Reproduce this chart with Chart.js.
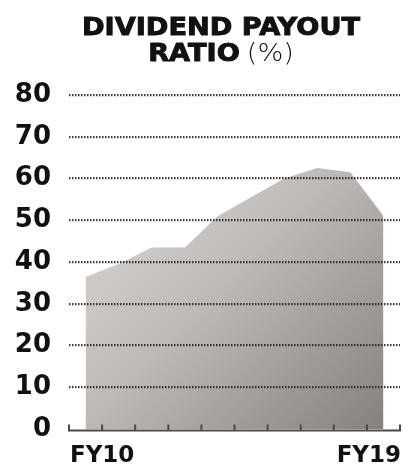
<!DOCTYPE html>
<html>
<head>
<meta charset="utf-8">
<title>Dividend payout ratio</title>
<script src="https://cdn.jsdelivr.net/npm/chart.js@4"></script>
<style>
  html, body { margin: 0; padding: 0; background: #fff; }
</style>
</head>
<body>
<canvas id="payoutChart" width="409" height="468"></canvas>
<script>
// Dividend payout ratio by financial year (%)
const years = ['FY10', 'FY11', 'FY12', 'FY13', 'FY14', 'FY15', 'FY16', 'FY17', 'FY18', 'FY19'];
const payout = [36.4, 39.5, 43.5, 43.5, 51, 55.5, 60, 62.5, 61.5, 51];
const yMin = 0;
const yMax = 80;
const yStep = 10;
const titleTop = 'DIVIDEND PAYOUT';
const titleBold = 'RATIO';
const titleUnit = '(%)';

const ink = '#111';
const face = '"DejaVu Sans", sans-serif';
const titleFont = `bold 24px ${face}`;
const unitFont = `200 24px ${face}`;

// title text, a bit wider than the font's own widths
function wideText(ctx, text, x0, yBase, sx, heavy) {
  ctx.save();
  ctx.translate(x0, yBase);
  ctx.scale(sx, 1);
  ctx.fillText(text, 0, 0);
  if (heavy) {
    ctx.lineWidth = heavy;
    ctx.strokeStyle = ctx.fillStyle;
    ctx.strokeText(text, 0, 0);
  }
  ctx.restore();
}

// title, bottom axis with upward ticks, first/last year labels
const frame = {
  id: 'frame',
  afterDraw(chart) {
    const { ctx, scales: { x, y } } = chart;
    ctx.save();

    ctx.fillStyle = ink;
    ctx.textBaseline = 'alphabetic';
    ctx.textAlign = 'left';
    const cx = 221;
    ctx.font = titleFont;
    const w1 = ctx.measureText(titleTop).width;
    const sx = 278 / w1;
    const wBold = ctx.measureText(titleBold).width * sx;
    ctx.font = unitFont;
    const wUnit = ctx.measureText(titleUnit).width * sx;
    const gap = 7;
    const x2 = cx - (wBold + gap + wUnit) / 2;

    ctx.font = titleFont;
    wideText(ctx, titleTop, cx - 139, 35, sx, 0.9);
    wideText(ctx, titleBold, x2, 61, sx, 0.9);
    ctx.font = unitFont;
    wideText(ctx, titleUnit, x2 + wBold + gap, 61, sx, 0);

    const base = y.getPixelForValue(0) + 1.5;
    const left = x.getPixelForValue(-0.5);
    const right = x.getPixelForValue(years.length - 0.5);
    ctx.strokeStyle = '#4a4a4a';
    ctx.lineWidth = 2;
    ctx.lineCap = 'butt';
    ctx.beginPath();
    ctx.moveTo(left - 1, base);
    ctx.lineTo(right + 1, base);
    for (let i = 0; i <= years.length; i++) {
      const px = x.getPixelForValue(i - 0.5);
      ctx.moveTo(px, base + 1);
      ctx.lineTo(px, base - 6);
    }
    ctx.stroke();

    ctx.font = `bold 23px ${face}`;
    ctx.textAlign = 'left';
    ctx.fillText(years[0], left + 1, 462);
    ctx.textAlign = 'right';
    ctx.fillText(years[years.length - 1], right + 1, 462);

    ctx.restore();
  }
};

const chart = new Chart(document.getElementById('payoutChart'), {
  type: 'line',
  data: {
    labels: years,
    datasets: [{
      data: payout,
      fill: 'origin',
      borderWidth: 0,
      pointRadius: 0,
      tension: 0,
      backgroundColor: (context) => {
        const area = context.chart.chartArea;
        if (!area) return '#b5b0ad';
        const g = context.chart.ctx.createLinearGradient(area.left, area.top, area.right, area.bottom);
        g.addColorStop(0, '#d4d1cf');
        g.addColorStop(0.35, '#cbc8c6');
        g.addColorStop(0.52, '#bdb9b6');
        g.addColorStop(1, '#847e7b');
        return g;
      }
    }]
  },
  options: {
    responsive: false,
    animation: false,
    layout: { padding: { top: 95, right: 9, bottom: 39, left: 0 } },
    plugins: {
      legend: { display: false },
      tooltip: { enabled: false },
      title: { display: false }
    },
    scales: {
      x: {
        type: 'category',
        offset: true,
        display: false
      },
      y: {
        min: yMin,
        max: yMax,
        afterFit: (scale) => { scale.width = 69; },
        ticks: {
          stepSize: yStep,
          padding: 18,
          color: ink,
          font: { family: 'DejaVu Sans', size: 26, weight: 'bold' }
        },
        border: { display: false, dash: [1.5, 1.5] },
        grid: {
          z: 1,
          drawTicks: false,
          lineWidth: 2.2,
          color: (c) => c.tick && c.tick.value === 0 ? 'rgba(0,0,0,0)' : 'rgba(35,35,35,0.9)'
        }
      }
    }
  },
  plugins: [frame]
});
</script>
</body>
</html>
